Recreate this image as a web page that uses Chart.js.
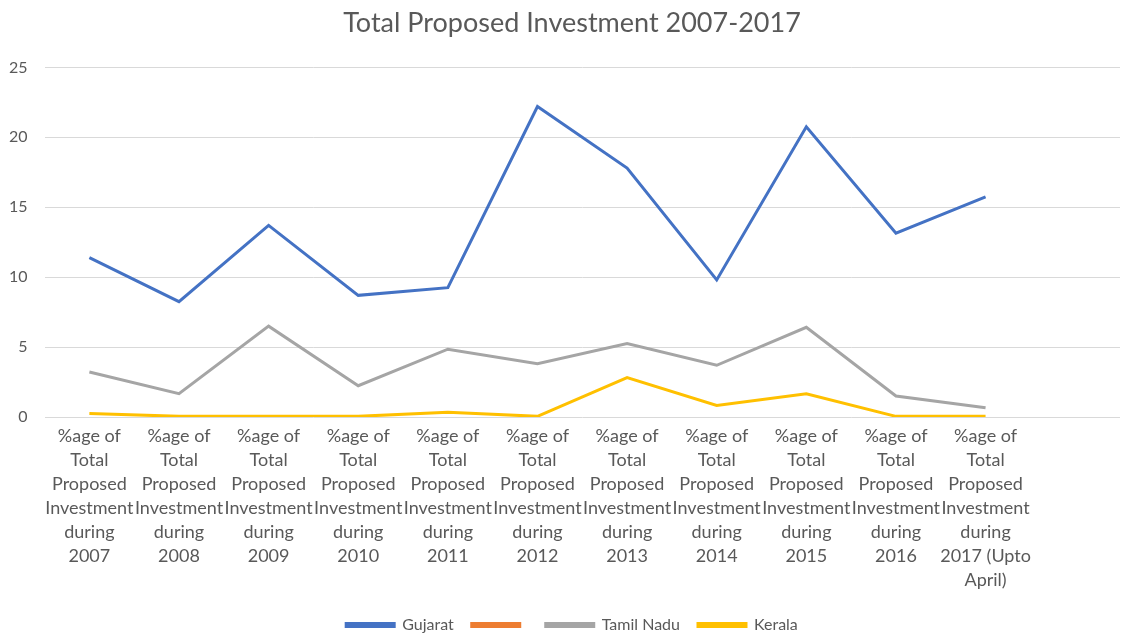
<!DOCTYPE html>
<html>
<head>
<meta charset="utf-8">
<script src="https://cdn.jsdelivr.net/npm/chart.js@4"></script>
<style>
  html, body { margin: 0; padding: 0; background: #fff; }
  #wrap { width: 1121px; height: 635px; }
</style>
</head>
<body>
<div id="wrap"><canvas id="myChart"></canvas></div>
<script>
// Category labels, split into lines the way the axis shows them
const years = ['2007', '2008', '2009', '2010', '2011', '2012', '2013', '2014', '2015', '2016'];
const categories = years.map(y => ['%age of', 'Total', 'Proposed', 'Investment', 'during', y]);
categories.push(['%age of', 'Total', 'Proposed', 'Investment', 'during', '2017 (Upto', 'April)']);
categories.push('');

// Series values (% of total proposed investment)
const gujarat = [11.4, 8.25, 13.7, 8.7, 9.25, 22.2, 17.8, 9.8, 20.75, 13.15, 15.75, null];
const blankSeries = [null, null, null, null, null, null, null, null, null, null, null, null];
const tamilNadu = [3.22, 1.67, 6.5, 2.24, 4.85, 3.82, 5.25, 3.7, 6.42, 1.5, 0.67, null];
const kerala = [0.26, 0.05, 0.05, 0.05, 0.35, 0.05, 2.82, 0.83, 1.67, 0.05, 0.05, null];

const yTicks = [0, 5, 10, 15, 20, 25];

const fontFamily = 'Lato, "Open Sans", sans-serif';
const textColor = '#595959';

function series(label, data, color) {
    return {
        label: label,
        data: data,
        borderColor: color,
        backgroundColor: color,
        borderWidth: 3,
        pointRadius: 0,
        tension: 0,
        spanGaps: false
    };
}

// Nudge title and legend a little to the right, closer to the middle of the plot
const shiftBlocks = {
    id: 'shiftBlocks',
    afterLayout(chart) {
        const dx = 16;
        [chart.titleBlock, chart.legend].forEach(box => {
            if (!box) return;
            box.left += dx;
            box.right += dx;
        });
    }
};

const ctx = document.getElementById('myChart').getContext('2d');

new Chart(ctx, {
    type: 'line',
    data: {
        labels: categories,
        datasets: [
            series('Gujarat', gujarat, '#4472C4'),
            series('', blankSeries, '#ED7D31'),
            series('Tamil Nadu', tamilNadu, '#A5A5A5'),
            series('Kerala', kerala, '#FFC000')
        ]
    },
    plugins: [shiftBlocks],
    options: {
        responsive: true,
        maintainAspectRatio: false,
        animation: false,
        layout: {
            padding: { left: -8, right: 1, top: 7, bottom: -8 }
        },
        scales: {
            x: {
                offset: true,
                grid: { display: false, drawTicks: false },
                border: { display: false },
                // labels are allowed to run into the neighbouring columns
                afterFit: axis => {
                    axis.paddingLeft = 0;
                    axis.paddingRight = 0;
                },
                ticks: {
                    autoSkip: false,
                    maxRotation: 0,
                    minRotation: 0,
                    padding: 7,
                    color: textColor,
                    font: { family: fontFamily, size: 18, lineHeight: 1.333 }
                }
            },
            y: {
                min: 0,
                max: 25,
                afterBuildTicks: axis => {
                    axis.ticks = yTicks.map(v => ({ value: v }));
                },
                grid: { color: '#d9d9d9', lineWidth: 1, drawTicks: false },
                border: { display: false },
                ticks: {
                    padding: 17,
                    color: textColor,
                    font: { family: fontFamily, size: 16 }
                }
            }
        },
        plugins: {
            title: {
                display: true,
                text: 'Total Proposed Investment 2007-2017',
                color: textColor,
                font: { family: fontFamily, size: 27, weight: 'normal' },
                padding: { top: 0, bottom: 28 }
            },
            legend: {
                position: 'bottom',
                labels: {
                    color: textColor,
                    font: { family: fontFamily, size: 16 },
                    boxWidth: 48,
                    boxHeight: 3,
                    padding: 18
                }
            },
            tooltip: { enabled: false }
        }
    }
});
</script>
</body>
</html>
